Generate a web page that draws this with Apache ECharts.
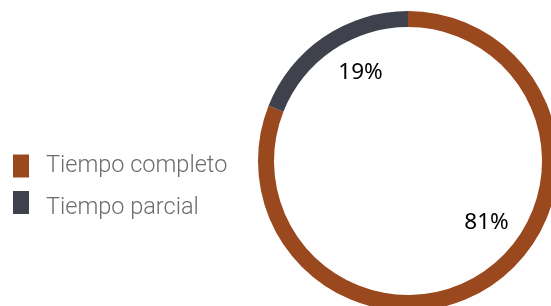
<!DOCTYPE html>
<html>
<head>
<meta charset="utf-8">
<script src="https://cdn.jsdelivr.net/npm/echarts@6/dist/echarts.min.js"></script>
<style>
  html, body { margin: 0; padding: 0; background: #fff; }
  #chart { width: 551px; height: 306px; }
</style>
</head>
<body>
<div id="chart"></div>
<script>
// datos del gráfico
const categories = ["Tiempo completo", "Tiempo parcial"];
const values = [81, 19];
const colors = ["#9a481d", "#3f414c"];

// pequeños desplazamientos de las etiquetas hacia el hueco del anillo
const labelShift = [
  { dx: -3, dy: -58 },
  { dx: 34, dy: 32 },
];

const chart = echarts.init(document.getElementById("chart"));

const legendText = {
  fontFamily: "Roboto",
  fontWeight: 300,
  fontSize: 23.5,
  color: "#6c6c6c",
};

const option = {
  animation: false,
  legend: {
    orient: "vertical",
    left: 8,
    top: 149,
    itemWidth: 16,
    itemHeight: 23,
    itemGap: 13,
    icon: "rect",
    selectedMode: false,
    data: categories,
    // el segundo texto queda un poco más abajo que su cuadrado
    formatter: function (name) {
      return name === categories[1] ? "{b|" + name + "}" : "{a|" + name + "}";
    },
    textStyle: {
      padding: [0, 0, 0, 12],
      rich: {
        a: Object.assign({}, legendText),
        b: Object.assign({ padding: [11, 0, 0, 0] }, legendText),
      },
    },
  },
  series: [
    {
      type: "pie",
      center: [408, 161],
      radius: [134, 150],
      startAngle: 90,
      clockwise: true,
      silent: true,
      label: {
        show: true,
        position: "inside",
        formatter: "{d}%",
        fontFamily: "Noto Sans",
        fontSize: 22.5,
        color: "#000",
      },
      labelLine: { show: false },
      labelLayout: function (params) {
        return labelShift[params.dataIndex];
      },
      data: categories.map((name, i) => ({
        name: name,
        value: values[i],
        itemStyle: { color: colors[i] },
      })),
    },
  ],
};

chart.setOption(option);
</script>
</body>
</html>
